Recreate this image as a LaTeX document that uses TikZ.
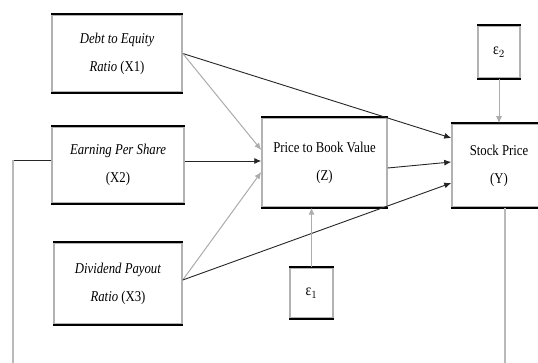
\documentclass[tikz,border=0pt]{standalone}
\usepackage{fontspec}
\setmainfont{Liberation Serif}[FakeStretch=0.85]
\usetikzlibrary{arrows.meta,calc}
\begin{document}
\begin{tikzpicture}[x=1pt,y=-1pt,
  box/.style={draw=gray!60,line width=1.5pt,inner sep=0pt,align=center,
    font=\fontsize{15}{28}\selectfont},
  edgeline/.style={line width=1.7pt,black},
  dark/.style={draw=black!85,line width=0.9pt,-{Latex[length=7pt,width=6pt]}},
  light/.style={draw=gray!65,line width=1pt,-{Latex[length=7pt,width=6pt]}},
  darkline/.style={draw=black!85,line width=0.9pt},
  lightline/.style={draw=gray!55,line width=1.2pt},
  eps/.style={box,font=\fontsize{16}{18}\selectfont}]
\clip (0,0) rectangle (538,363);
\fill[white] (0,0) rectangle (538,363);

\node[box,minimum width=130pt,minimum height=77pt] (X1) at (117,53.5)
  {\textit{Debt to Equity}\\\textit{Ratio} (X1)};
\node[box,minimum width=132pt,minimum height=76pt] (X2) at (118,165)
  {\textit{Earning Per Share}\\(X2)};
\node[box,minimum width=128pt,minimum height=81pt] (X3) at (118,283.5)
  {\textit{Dividend Payout}\\\textit{Ratio} (X3)};
\node[box,minimum width=125pt,minimum height=89pt] (Z) at (324.5,162.5)
  {Price to Book Value\\(Z)};
\node[box,minimum width=94pt,minimum height=83pt] (Y) at (499,165.5)
  {Stock Price\\(Y)};
\node[eps,minimum width=42pt,minimum height=52pt] (E2) at (499,52) {ε$_2$};
\node[eps,minimum width=43pt,minimum height=50pt] (E1) at (311.5,293) {ε$_1$};

\foreach \n in {X1,X2,X3,Z,Y,E1,E2}{
  \draw[edgeline] (\n.north west) -- (\n.north east);
  \draw[edgeline] (\n.south west) -- (\n.south east);
}

% arrows
\draw[dark] (X1.east) -- ([yshift=27.5pt]Y.west);
\draw[light] (X1.east) -- ([yshift=12.5pt]Z.west);
\draw[dark] ([yshift=4pt]X2.east) -- ([yshift=1.5pt]Z.west);
\draw[light] ([yshift=3.5pt]X3.east) -- ([yshift=-9.5pt]Z.west);
\draw[dark] ([yshift=3.5pt]X3.east) -- ([yshift=-17.5pt]Y.west);
\draw[dark] ([yshift=-5.5pt]Z.east) -- ([yshift=3.5pt]Y.west);
\draw[light] (E2.south) -- (Y.north);
\draw[light] (E1.north) -- (E1.north |- Z.south);

% feedback lines
\coordinate (L1) at (13,160);
\coordinate (L2) at (13,370);
\coordinate (R2) at (505,370);
\draw[darkline] ([yshift=5pt]X2.west) -- (L1);
\draw[lightline] (L1) -- (L2);
\draw[lightline] ([xshift=6pt]Y.south) -- (R2);
\end{tikzpicture}
\end{document}
